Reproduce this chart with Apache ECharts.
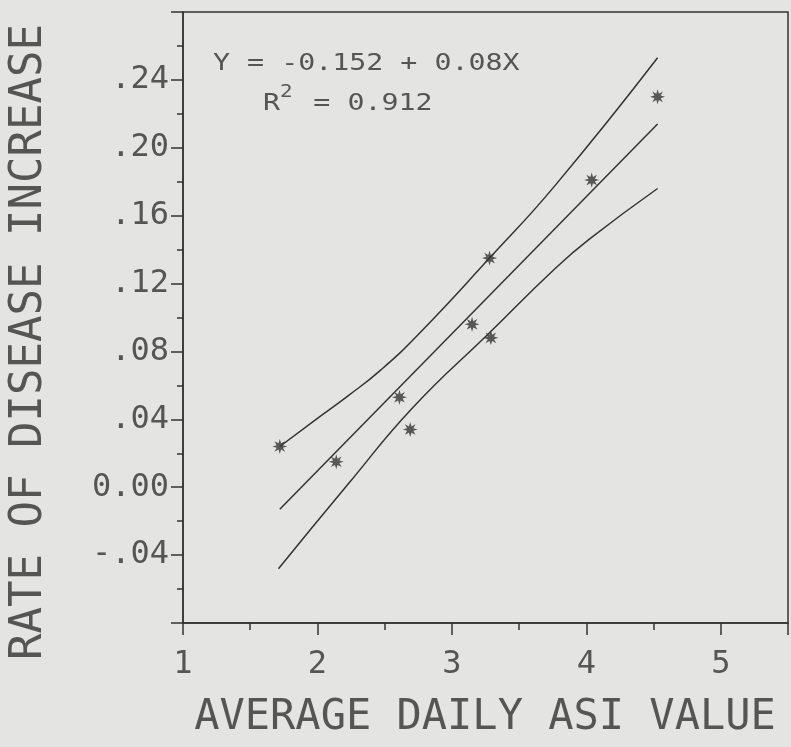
<!DOCTYPE html>
<html>
<head>
<meta charset="utf-8">
<script src="https://cdn.jsdelivr.net/npm/echarts@6/dist/echarts.min.js"></script>
<style>
  html, body { margin: 0; padding: 0; background: #e4e4e2; }
  #chart { width: 791px; height: 747px; }
</style>
</head>
<body>
<div id="chart"></div>
<script>
// observed points
const asiValues = [1.72, 2.14, 2.61, 2.69, 3.15, 3.28, 3.29, 4.04, 4.53];
const diseaseRates = [0.024, 0.015, 0.053, 0.034, 0.096, 0.135, 0.088, 0.181, 0.230];

// fitted line, read at both ends
const fitX = [1.72, 4.53];
const fitY = [-0.013, 0.214];

// upper / lower confidence curves
const upperX = [1.72, 1.99, 2.23, 2.47, 2.75, 3.28, 3.77, 4.53];
const upperY = [0.024, 0.040, 0.054, 0.069, 0.090, 0.135, 0.178, 0.253];
const lowerX = [1.71, 2.23, 2.71, 3.28, 3.77, 4.02, 4.53];
const lowerY = [-0.048, 0.002, 0.047, 0.091, 0.129, 0.146, 0.176];

// tick labels
const xTicks = [1, 2, 3, 4, 5];
const xTickLabels = ['1', '2', '3', '4', '5'];
const yTicks = [-0.04, 0, 0.04, 0.08, 0.12, 0.16, 0.20, 0.24];
const yTickLabels = ['-.04', '0.00', '.04', '.08', '.12', '.16', '.20', '.24'];

const INK = '#333';
const TXT = '#555';
const MONO = '"DejaVu Sans Mono", monospace';

function pick(ticks, labels, v) {
    const i = ticks.findIndex(t => Math.abs(t - v) < 1e-6);
    return i < 0 ? '' : labels[i];
}
function zip(xs, ys) {
    return xs.map((x, i) => [x, ys[i]]);
}

// 8-spike asterisk marker
let star = 'path://';
for (let i = 0; i < 16; i++) {
    const a = i * Math.PI / 8 - Math.PI / 2;
    const r = i % 2 ? 4.5 : 10;
    star += (i ? 'L' : 'M') + (10 + r * Math.cos(a)).toFixed(2) + ' ' + (10 + r * Math.sin(a)).toFixed(2);
}
star += 'Z';

const chart = echarts.init(document.getElementById('chart'));

const curve = {
    type: 'line',
    showSymbol: false,
    smooth: 0.5,
    lineStyle: { color: INK, width: 1.5 },
    silent: true
};

const option = {
    backgroundColor: '#e4e4e2',
    animation: false,
    grid: {
        left: 183, top: 12, width: 626, height: 611,
        show: true, borderColor: INK, borderWidth: 1.5
    },
    xAxis: {
        type: 'value', min: 1, max: 5.5, interval: 1,
        axisLine: { show: true, onZero: false, lineStyle: { color: INK, width: 1.5 } },
        axisTick: { show: true, length: 12, lineStyle: { color: INK, width: 1.5 } },
        minorTick: { show: true, splitNumber: 2, length: 7, lineStyle: { color: INK, width: 1.5 } },
        splitLine: { show: false },
        axisLabel: {
            margin: 26, fontSize: 32, fontFamily: MONO, color: TXT,
            formatter: v => pick(xTicks, xTickLabels, v)
        }
    },
    yAxis: {
        type: 'value', min: -0.08, max: 0.28, interval: 0.04,
        axisLine: { show: true, onZero: false, lineStyle: { color: INK, width: 1.5 } },
        axisTick: { show: true, length: 12, lineStyle: { color: INK, width: 1.5 } },
        minorTick: { show: true, splitNumber: 2, length: 6, lineStyle: { color: INK, width: 1.5 } },
        splitLine: { show: false },
        axisLabel: {
            margin: 14, fontSize: 32, fontFamily: MONO, color: TXT,
            formatter: v => pick(yTicks, yTickLabels, v)
        }
    },
    series: [
        Object.assign({}, curve, { name: 'upper', data: zip(upperX, upperY) }),
        Object.assign({}, curve, { name: 'fit', smooth: false, data: zip(fitX, fitY) }),
        Object.assign({}, curve, { name: 'lower', data: zip(lowerX, lowerY) }),
        {
            name: 'observed',
            type: 'scatter',
            symbol: star,
            symbolSize: 15,
            itemStyle: { color: INK },
            z: 5,
            data: zip(asiValues, diseaseRates)
        }
    ],
    graphic: [
        {
            type: 'text', x: 213, y: 64, scaleX: 1.23,
            style: {
                text: 'Y = -0.152 + 0.08X',
                font: '23px ' + MONO, fill: TXT, textVerticalAlign: 'middle'
            }
        },
        {
            type: 'text', x: 263, y: 100, scaleX: 1.23,
            style: {
                text: '{a|R}{s|2}{a| = 0.912}',
                fill: TXT, textVerticalAlign: 'middle',
                rich: {
                    a: { fontSize: 23, fontFamily: MONO, color: TXT, lineHeight: 31, verticalAlign: 'bottom' },
                    s: { fontSize: 17, fontFamily: MONO, color: TXT, lineHeight: 17, verticalAlign: 'top', padding: [0, 3, 0, 0] }
                }
            }
        },
        {
            type: 'text', x: 30, y: 342, rotation: Math.PI / 2,
            style: {
                text: 'RATE OF DISEASE INCREASE',
                font: '44px ' + MONO, fill: TXT,
                textAlign: 'center', textVerticalAlign: 'middle'
            }
        },
        {
            type: 'text', x: 485, y: 718,
            style: {
                text: 'AVERAGE DAILY ASI VALUE',
                font: '42px ' + MONO, fill: TXT,
                textAlign: 'center', textVerticalAlign: 'middle'
            }
        }
    ]
};

chart.setOption(option);
</script>
</body>
</html>
